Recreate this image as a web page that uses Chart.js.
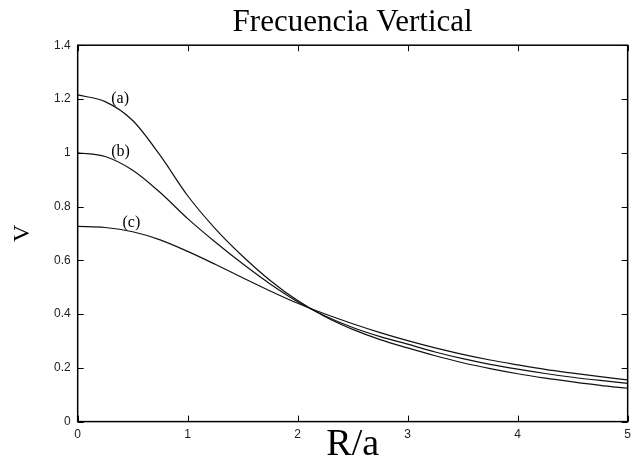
<!DOCTYPE html>
<html>
<head>
<meta charset="utf-8">
<script src="https://cdn.jsdelivr.net/npm/chart.js@4.4.1/dist/chart.umd.min.js"></script>
<style>
  html, body { margin: 0; padding: 0; background: #fff; }
  #wrap { width: 637px; height: 464px; }
</style>
</head>
<body>
<div id="wrap"><canvas id="freq" width="637" height="464"></canvas></div>
<script>
// R/a sample points
var radius = [0, 0.25, 0.5, 0.75, 1, 1.25, 1.5, 1.75, 2, 2.25, 2.5, 2.75, 3, 3.25, 3.5, 3.75, 4, 4.25, 4.5, 4.75, 5];
// vertical frequency for the three models
var curveA = [1.215, 1.19, 1.12, 0.99, 0.84, 0.718, 0.615, 0.525, 0.45, 0.39, 0.343, 0.305, 0.274, 0.245, 0.219, 0.197, 0.178, 0.162, 0.148, 0.135, 0.124];
var curveB = [1.0, 0.986, 0.935, 0.852, 0.755, 0.668, 0.587, 0.512, 0.446, 0.393, 0.35, 0.316, 0.288, 0.259, 0.234, 0.213, 0.195, 0.179, 0.165, 0.153, 0.142];
var curveC = [0.726, 0.722, 0.706, 0.676, 0.633, 0.585, 0.535, 0.486, 0.44, 0.4, 0.364, 0.331, 0.301, 0.274, 0.25, 0.229, 0.211, 0.194, 0.18, 0.167, 0.155];
var curveNames = ["(a)", "(b)", "(c)"];
// where each curve name sits, in data units [R/a, V]
var nameAnchors = [[0.386, 1.202], [0.39, 1.005], [0.488, 0.741]];
var xTicks = [0, 1, 2, 3, 4, 5];
var yTicks = [0, 0.2, 0.4, 0.6, 0.8, 1, 1.2, 1.4];

var toPoints = function (vals) {
    return vals.map(function (v, i) { return { x: radius[i], y: v }; });
};
var lineStyle = function (label, vals) {
    return {
        label: label,
        data: toPoints(vals),
        borderColor: "#111",
        borderWidth: 1.2,
        pointRadius: 0,
        fill: false,
        cubicInterpolationMode: "monotone",
    };
};
var tickText = function (v) { return String(+(+v).toFixed(1)); };

// box around the plot, gnuplot-like inward ticks, curve names
var framePlugin = {
    id: "frame",
    afterDatasetsDraw: function (chart) {
        var ctx = chart.ctx;
        var a = chart.chartArea;
        var xs = chart.scales.x;
        var ys = chart.scales.y;
        ctx.save();
        ctx.strokeStyle = "#000";
        ctx.lineWidth = 1.5;
        ctx.strokeRect(a.left, a.top, a.right - a.left, a.bottom - a.top);
        ctx.lineWidth = 1;
        ctx.beginPath();
        xTicks.forEach(function (t) {
            var px = Math.round(xs.getPixelForValue(t)) + 0.5;
            ctx.moveTo(px, a.bottom); ctx.lineTo(px, a.bottom - 6);
            ctx.moveTo(px, a.top); ctx.lineTo(px, a.top + 6);
        });
        yTicks.forEach(function (t) {
            var py = Math.round(ys.getPixelForValue(t)) + 0.5;
            ctx.moveTo(a.left, py); ctx.lineTo(a.left + 6, py);
            ctx.moveTo(a.right, py); ctx.lineTo(a.right - 6, py);
        });
        ctx.stroke();
        ctx.fillStyle = "#000";
        ctx.font = "16px 'Liberation Serif'";
        ctx.textAlign = "center";
        ctx.textBaseline = "middle";
        curveNames.forEach(function (n, i) {
            ctx.fillText(n, xs.getPixelForValue(nameAnchors[i][0]), ys.getPixelForValue(nameAnchors[i][1]));
        });
        ctx.restore();
    }
};

var c = document.getElementById("freq").getContext("2d");
var chart = new Chart(c, {
    type: "line",
    data: {
        datasets: [
            lineStyle("(a)", curveA),
            lineStyle("(b)", curveB),
            lineStyle("(c)", curveC),
        ],
    },
    options: {
        responsive: false,
        animation: false,
        devicePixelRatio: 1,
        layout: {
            padding: { left: 0, right: 9, top: 0, bottom: 0 },
        },
        plugins: {
            legend: { display: false },
            tooltip: { enabled: false },
            title: {
                display: true,
                text: "Frecuencia Vertical",
                fullSize: false,
                color: "#000",
                font: { family: "'Liberation Serif'", size: 31, weight: "normal", lineHeight: 1.2 },
                padding: { top: 4, bottom: 4 },
            },
        },
        scales: {
            x: {
                type: "linear",
                min: 0,
                max: 5,
                afterBuildTicks: function (s) { s.ticks = xTicks.map(function (v) { return { value: v }; }); },
                grid: { display: false, drawTicks: false },
                border: { display: false },
                ticks: {
                    color: "#222",
                    padding: 6,
                    maxRotation: 0,
                    callback: tickText,
                    font: { family: "'Liberation Sans'", size: 12 },
                },
                title: {
                    display: true,
                    text: "R/a",
                    color: "#000",
                    font: { family: "'Liberation Serif'", size: 38, lineHeight: 1 },
                    padding: { top: -22, bottom: 0 },
                },
            },
            y: {
                type: "linear",
                min: 0,
                max: 1.4,
                afterBuildTicks: function (s) { s.ticks = yTicks.map(function (v) { return { value: v }; }); },
                grid: { display: false, drawTicks: false },
                border: { display: false },
                ticks: {
                    color: "#222",
                    padding: 7,
                    callback: tickText,
                    font: { family: "'Liberation Sans'", size: 12 },
                },
                title: {
                    display: true,
                    text: "V",
                    color: "#000",
                    font: { family: "'Liberation Serif'", size: 24, lineHeight: 1 },
                    padding: { top: 11, bottom: 12 },
                },
            },
        },
    },
    plugins: [framePlugin],
});
</script>
</body>
</html>
